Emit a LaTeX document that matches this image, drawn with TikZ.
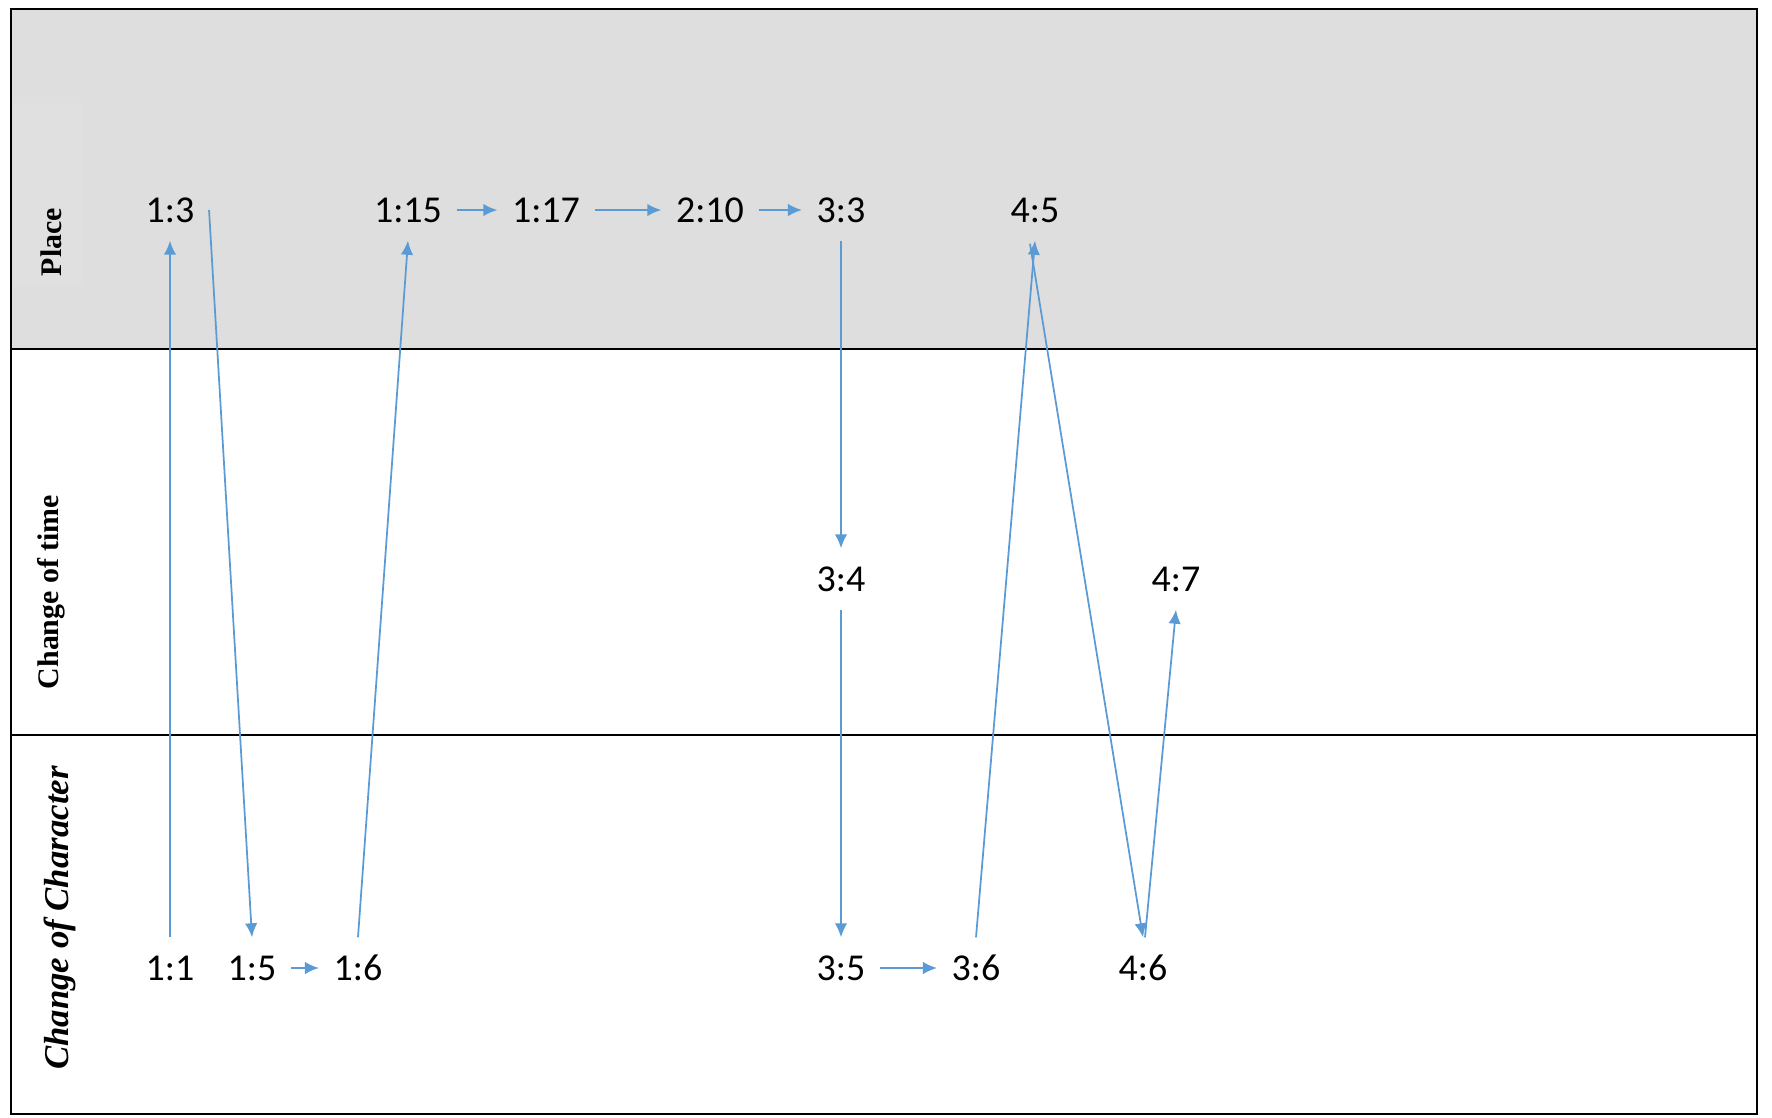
\documentclass[tikz,border=0pt]{standalone}
\usepackage{fontspec}
\setmainfont{Carlito}
\newfontfamily\timesfont{Liberation Serif}
\usetikzlibrary{arrows.meta}
\definecolor{arrowblue}{HTML}{5B9BD5}
\definecolor{bandgray}{HTML}{DEDEDE}
\definecolor{placegray}{HTML}{E0E0E0}
\tikzset{>={Latex[length=1.4mm,width=1.25mm]}}

\begin{document}
\begin{tikzpicture}[x=0.01cm,y=-0.01cm,
		verse/.style={font=\fontsize{10.8}{12}\selectfont, inner xsep=0.14cm, inner ysep=0pt, minimum height=0.6cm},
		link/.style={->, arrowblue, line width=0.5pt},
		rowlab/.style={rotate=90, inner sep=0pt, font=\timesfont\bfseries\fontsize{8.5}{10}\selectfont}]
		\useasboundingbox (0,0) rectangle (1772,1117);
		% the three bands
		\fill[bandgray] (11,9) rectangle (1757,349);
		\fill[placegray] (13,103) rectangle (82,285);
		\draw[line width=0.7pt] (11,9) rectangle (1757,1114);
		\draw[line width=0.7pt] (11,349) -- (1757,349);
		\draw[line width=0.7pt] (11,735) -- (1757,735);
		\node[rowlab] (place) at (51,242) {Place};
		\node[rowlab] (time) at (51,592) {Change of time};
		\node[rowlab, font=\timesfont\bfseries\itshape\fontsize{9.9}{11}\selectfont] (char) at (60,918) {Change of Character};
		% verses
		\node[verse] (n13) at (170,210) {1:3};
		\node[verse] (n115) at (408,210) {1:15};
		\node[verse] (n117) at (546,210) {1:17};
		\node[verse] (n210) at (710,210) {2:10};
		\node[verse] (n33) at (841,210) {3:3};
		\node[verse] (n45) at (1035,210) {4:5};
		\node[verse] (n34) at (841,579) {3:4};
		\node[verse] (n47) at (1176,579) {4:7};
		\node[verse] (n11) at (170,968) {1:1};
		\node[verse] (n15) at (252,968) {1:5};
		\node[verse] (n16) at (358,968) {1:6};
		\node[verse] (n35) at (841,968) {3:5};
		\node[verse] (n36) at (976,968) {3:6};
		\node[verse] (n46) at (1143,968) {4:6};
		% connections
		\draw[link] (n11.north) -- (n13.south);
		\draw[link] (n13.east) -- (n15.north);
		\draw[link] (n15.east) -- (n16.west);
		\draw[link] (n16.north) -- (n115.south);
		\draw[link] (n115.east) -- (n117.west);
		\draw[link] (n117.east) -- (n210.west);
		\draw[link] (n210.east) -- (n33.west);
		\draw[link] (n33.south) -- (n34.north);
		\draw[link] (n34.south) -- (n35.north);
		\draw[link] (n35.east) -- (n36.west);
		\draw[link] (n36.north) -- (n45.south);
		\draw[link] ([xshift=-0.05cm,yshift=-0.03cm]n45.south) -- (n46.north);
		\draw[link] ([xshift=0.02cm]n46.north) -- (n47.south);
	\end{tikzpicture}
\end{document}
